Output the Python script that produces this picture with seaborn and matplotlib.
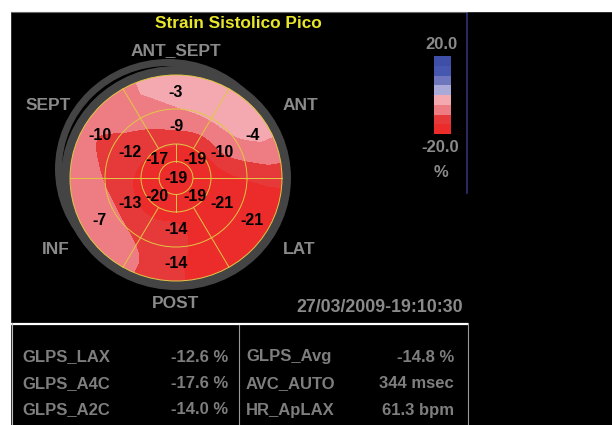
import numpy as np
import matplotlib
matplotlib.use("Agg")
import matplotlib.pyplot as plt
from matplotlib import font_manager
from matplotlib.patches import Ellipse, Rectangle
from matplotlib.colors import ListedColormap
import seaborn as sns

# 17-segment bull's eye, angles in degrees (0 = right, 90 = top)
basal_angles = [90, 30, 330, 270, 210, 150]
basal_values = [-3, -4, -21, -14, -7, -10]
mid_angles = [90, 30, 330, 270, 210, 150]
mid_values = [-9, -10, -21, -14, -13, -12]
apical_angles = [45, 135, 225, 315]
apical_values = [-19, -17, -20, -19]
apex_value = -19

wall_names = ["ANT_SEPT", "ANT", "LAT", "POST", "INF", "SEPT"]

scale_levels = [-20, -15, -10, -5, 0, 5, 10, 15, 20]
scale_colors = ["#EC2B2B", "#E5393A", "#EE7D83", "#F4A8B0",
                "#AAAAD8", "#6E76BE", "#4557AE", "#3D4FA6"]

table_left_names = ["GLPS_LAX", "GLPS_A4C", "GLPS_A2C"]
table_left_values = ["-12.6 %", "-17.6 %", "-14.0 %"]
table_right_names = ["GLPS_Avg", "AVC_AUTO", "HR_ApLAX"]
table_right_values = ["-14.8 %", "344 msec", "61.3 bpm"]

title = "Strain Sistolico Pico"
timestamp = "27/03/2009-19:10:30"


def pick_bold_family():
    for fam in ["Liberation Sans", "Arimo", "Roboto", "Noto Sans", "DejaVu Sans"]:
        try:
            path = font_manager.findfont(
                font_manager.FontProperties(family=fam, weight="bold"),
                fallback_to_default=False)
        except Exception:
            continue
        if "bold" in path.lower():
            return fam
    return "DejaVu Sans"


plt.rcParams["font.family"] = [pick_bold_family(), "DejaVu Sans"]
plt.rcParams["font.weight"] = "bold"

GRAY_TXT = "#8A8A8A"
RING = "#444444"
GRID = "#E2C844"

cx, cy, rx, ry = 176, 178, 106, 103
r_apex, r_apical, r_mid = 0.16, 0.33, 0.67


def to_px(r, ang):
    a = np.deg2rad(ang)
    return cx + rx * r * np.cos(a), cy - ry * r * np.sin(a)


def tps(px, py, vals, gx, gy):
    def phi(d):
        with np.errstate(divide="ignore", invalid="ignore"):
            out = d ** 2 * np.log(d)
        return np.nan_to_num(out)
    n = len(vals)
    d = np.hypot(px[:, None] - px[None, :], py[:, None] - py[None, :])
    A = np.zeros((n + 3, n + 3))
    A[:n, :n] = phi(d)
    P = np.column_stack([np.ones(n), px, py])
    A[:n, n:] = P
    A[n:, :n] = P.T
    coef = np.linalg.solve(A, np.concatenate([vals, np.zeros(3)]))
    w, a = coef[:n], coef[n:]
    dg = np.hypot(gx[..., None] - px, gy[..., None] - py)
    return phi(dg) @ w + a[0] + a[1] * gx + a[2] * gy


fig = plt.figure(figsize=(6.12, 4.25), dpi=100, facecolor="black")
ax = fig.add_axes([0, 0, 1, 1])
ax.set_xlim(0, 612)
ax.set_ylim(425, 0)
ax.axis("off")

# frame
ax.add_patch(Rectangle((0, 0), 612, 11, color="white", zorder=10))
ax.add_patch(Rectangle((0, 0), 10, 425, color="white", zorder=10))
ax.plot([11, 466], [11.5, 11.5], color="#6A6A6A", lw=0.8, zorder=11)
ax.plot([467, 467], [11, 193], color="#2E3278", lw=1.2)
ax.plot([11, 467], [323.5, 323.5], color="white", lw=1.6)
ax.plot([11.5, 11.5], [323, 425], color="#BDBDBD", lw=0.8)
ax.plot([468, 468], [323, 425], color="#9A9A9A", lw=0.8)
ax.plot([239, 239], [325, 425], color="#9A9A9A", lw=0.8)

# gray crescent + ring around the plot
ox, oy = 168, 169
ax.add_patch(Ellipse((ox, oy), 2 * (rx + 7), 2 * (ry + 7), fc=RING, ec="none", zorder=1))
ax.add_patch(Ellipse((ox, oy), 2 * rx, 2 * ry, fc="black", ec="none", zorder=2))
ax.add_patch(Ellipse((cx, cy), 2 * (rx + 9), 2 * (ry + 9), fc=RING, ec="none", zorder=3))

# smooth strain field from segment values
node_r = [0.0] + [0.25] * 4 + [0.5] * 6 + [0.83] * 6
node_a = [0] + apical_angles + mid_angles + basal_angles
node_v = np.array([apex_value] + apical_values + mid_values + basal_values, float)
nu = np.array(node_r) * np.cos(np.deg2rad(node_a))
nv = np.array(node_r) * np.sin(np.deg2rad(node_a))

u = np.linspace(-1.02, 1.02, 300)
gu, gv = np.meshgrid(u, u)
gr = np.hypot(gu, gv)
shrink = np.minimum(1.0, 0.88 / np.maximum(gr, 1e-9))
field = tps(nu, nv, node_v, gu * shrink, gv * shrink)
field = np.clip(field, node_v.min(), node_v.max())
field = np.clip(field, -19.99, 19.99)

clip = Ellipse((cx, cy), 2 * rx, 2 * ry, transform=ax.transData)
cs = ax.contourf(cx + rx * gu, cy - ry * gv, field, levels=scale_levels,
                 colors=scale_colors, zorder=4)
cs.set_clip_path(clip)

# segment grid
for r in [r_apex, r_apical, r_mid, 1.0]:
    ax.add_patch(Ellipse((cx, cy), 2 * rx * r, 2 * ry * r, fill=False,
                         ec=GRID, lw=0.7, zorder=5))
for ang in [0, 180]:
    x0, y0 = to_px(r_apex, ang)
    x1, y1 = to_px(1.0, ang)
    ax.plot([x0, x1], [y0, y1], color=GRID, lw=0.7, zorder=5)
for ang in [90, 270]:
    x0, y0 = to_px(r_apex, ang)
    x1, y1 = to_px(r_apical, ang)
    ax.plot([x0, x1], [y0, y1], color=GRID, lw=0.7, zorder=5)
for ang in [60, 120, 240, 300]:
    x0, y0 = to_px(r_apical, ang)
    x1, y1 = to_px(1.0, ang)
    ax.plot([x0, x1], [y0, y1], color=GRID, lw=0.7, zorder=5)

# segment values
for r, ang, val in zip(node_r, node_a, node_v):
    x, y = to_px(r, ang)
    ax.text(x, y, f"{val:.0f}", ha="center", va="center", fontsize=11.5,
            fontweight="bold", color="black", zorder=6)

# wall names
wall_pos = [(176, 51), (300, 105), (299, 249), (176, 303), (56, 249), (48, 105)]
for name, (x, y) in zip(wall_names, wall_pos):
    ax.text(x, y, name, ha="center", va="center", fontsize=12.5,
            fontweight="bold", color=GRAY_TXT, zorder=7)

ax.text(238, 23, title, ha="center", va="center", fontsize=12.4,
        fontweight="bold", color="#E8E62C", zorder=7)
ax.text(463, 308, timestamp, ha="right", va="center", fontsize=12.8,
        fontweight="bold", color=GRAY_TXT)

# colour scale
cax = fig.add_axes([434 / 612, 1 - 134 / 425, 17 / 612, 78 / 425])
mids = np.array([(a + b) / 2 for a, b in zip(scale_levels[:-1], scale_levels[1:])])
sns.heatmap(mids[::-1].reshape(-1, 1), ax=cax, cmap=ListedColormap(scale_colors),
            vmin=scale_levels[0], vmax=scale_levels[-1], cbar=False,
            xticklabels=False, yticklabels=False)
ax.text(441, 44, f"{scale_levels[-1]:.1f}", ha="center", va="center",
        fontsize=12, fontweight="bold", color=GRAY_TXT)
ax.text(440, 148, f"{scale_levels[0]:.1f}", ha="center", va="center",
        fontsize=12, fontweight="bold", color=GRAY_TXT)
ax.text(441, 172, "%", ha="center", va="center", fontsize=12,
        fontweight="bold", color=GRAY_TXT)

# summary table
row_y = [357, 383.5, 410]
for y, n1, v1, n2, v2 in zip(row_y, table_left_names, table_left_values,
                             table_right_names, table_right_values):
    for x, s, ha in [(22, n1, "left"), (228, v1, "right"),
                     (246, n2, "left"), (454, v2, "right")]:
        ax.text(x, y, s, ha=ha, va="center", fontsize=12,
                fontweight="bold", color="#7E7E7E")

fig.savefig("out.png", dpi=100, facecolor=fig.get_facecolor())
